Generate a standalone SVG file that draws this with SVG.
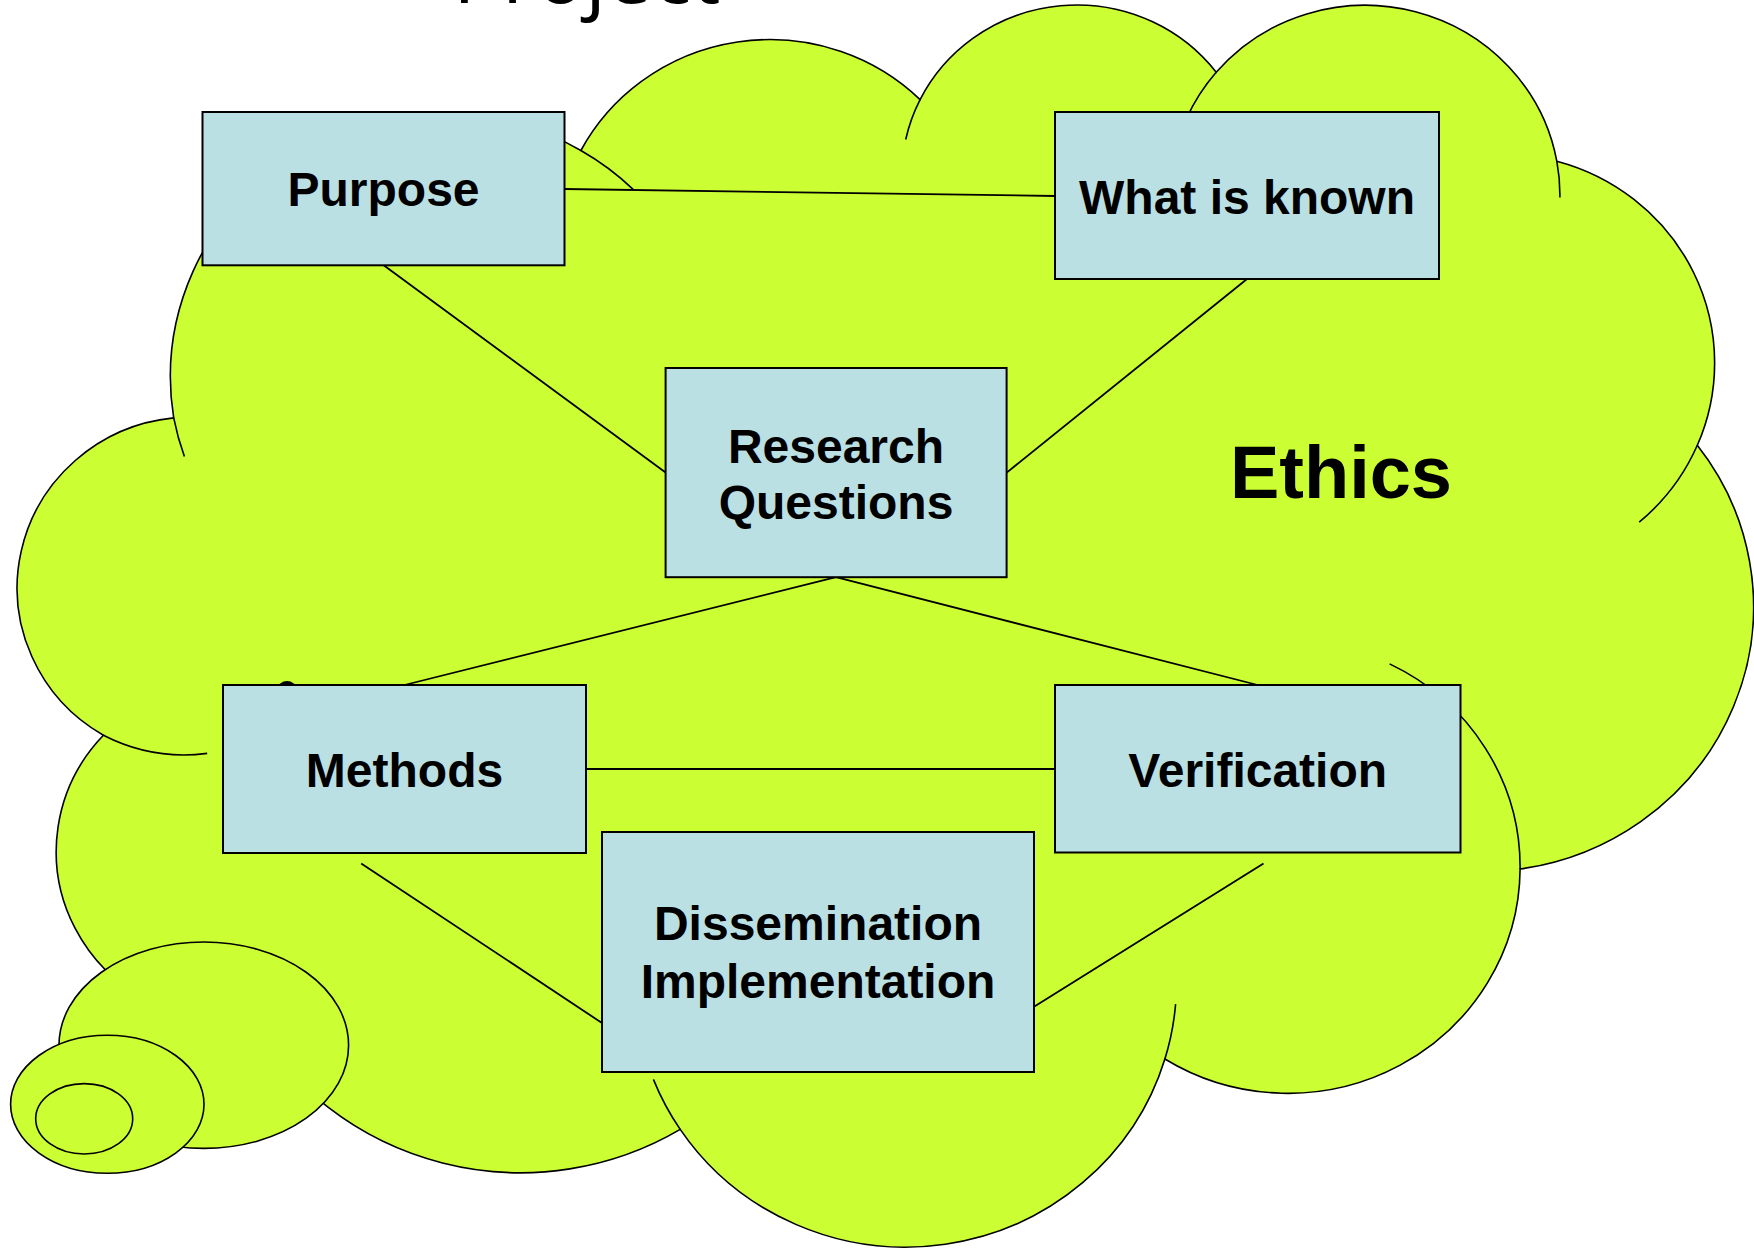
<svg xmlns="http://www.w3.org/2000/svg" width="1754" height="1248" viewBox="0 0 1754 1248">
<defs>
<style>
.cloud{fill:#CCFF33;stroke:#000;stroke-width:1.6}
.inner{fill:none;stroke:#000;stroke-width:1.6}
.tail{fill:#CCFF33;stroke:#000;stroke-width:1.6}
.box{fill:#BBE0E3;stroke:#000;stroke-width:2}
.lbl{font-family:"Liberation Sans",Arial,sans-serif;font-weight:bold;font-size:48px;fill:#000;text-anchor:middle}
.conn{stroke:#000;stroke-width:1.8;fill:none}
</style>
</defs>
<rect width="1754" height="1248" fill="#fff"/>
<text x="453" y="3" font-family="'Open Sans','DejaVu Sans',sans-serif" font-size="82" fill="#000">Project</text>
<g id="ethics-cloud">
<path class="cloud" d="M173.7 417.9 A271.06 264.13 0 0 1 580.9 150.5 A214.06 208.86 0 0 1 920.1 99.6 A175.21 170.86 0 0 1 1216.2 72.3 A194.96 189.55 0 0 1 1556.8 161.2 A214.06 209.03 0 0 1 1697.3 445.3 A271.94 264.99 0 0 1 1520.1 869.0 A232.20 226.11 0 0 1 1164.9 1059.0 A271.02 264.85 0 0 1 680.2 1129.4 A309.87 303.02 0 0 1 251.6 1020.4 A175.01 170.09 0 0 1 103.4 735.3 A174.40 170.86 0 0 1 173.7 417.9 Z"/>
<path class="inner" d="M207.2 753.4 A174.40 170.86 0 0 1 103.4 735.3 M296.9 1004.1 A175.01 170.09 0 0 1 251.6 1020.4 M680.2 1129.4 A271.02 264.85 0 0 1 653.4 1079.4 M1175.6 1004.1 A271.02 264.85 0 0 1 1164.9 1059.0 M1389.6 663.9 A232.20 226.11 0 0 1 1520.1 869.0 M1697.3 445.3 A214.06 209.03 0 0 1 1639.2 522.2 M1556.8 161.2 A194.96 189.55 0 0 1 1559.9 197.5 M1186.5 118.6 A194.96 189.55 0 0 1 1216.2 72.3 M905.7 139.5 A175.21 170.86 0 0 1 920.1 99.6 M580.9 150.5 A271.06 264.13 0 0 1 633.1 189.3 M184.4 456.5 A271.06 264.13 0 0 1 173.7 417.9"/>
<ellipse class="tail" cx="203.8" cy="1045.2" rx="144.8" ry="103.2"/>
<ellipse class="tail" cx="107.3" cy="1104.3" rx="96.7" ry="69"/>
<ellipse class="tail" cx="84.2" cy="1118.8" rx="48.5" ry="35.2"/>
<text x="1341" y="498" font-family="'Liberation Sans',Arial,sans-serif" font-weight="bold" font-size="74" text-anchor="middle" fill="#000">Ethics</text>
</g>
<ellipse cx="287" cy="689" rx="9" ry="8" fill="#000"/>
<g id="connectors">
<line class="conn" x1="564.6" y1="189" x2="1055" y2="196"/>
<line class="conn" x1="383.7" y1="265.3" x2="665.6" y2="472.6"/>
<line class="conn" x1="1247" y1="279" x2="1006.7" y2="472.6"/>
<line class="conn" x1="836" y1="577.2" x2="404.5" y2="685"/>
<line class="conn" x1="836" y1="577.2" x2="1257.7" y2="685"/>
<line class="conn" x1="586" y1="769" x2="1055" y2="769"/>
<line class="conn" x1="361.2" y1="863.4" x2="602" y2="1023"/>
<line class="conn" x1="1263.5" y1="863.4" x2="1034" y2="1006.7"/>
</g>
<g id="node-purpose">
<rect class="box" x="202.5" y="112" width="362" height="153.3"/>
<text class="lbl" x="383.5" y="206">Purpose</text>
</g>
<g id="node-what-is-known">
<rect class="box" x="1055" y="112" width="384" height="167"/>
<text class="lbl" x="1247" y="213.5">What is known</text>
</g>
<g id="node-research-questions">
<rect class="box" x="665.6" y="368" width="341" height="209.2"/>
<text class="lbl" x="836" y="463">Research</text>
<text class="lbl" x="836" y="519">Questions</text>
</g>
<g id="node-methods">
<rect class="box" x="223" y="685" width="363" height="168"/>
<text class="lbl" x="404.5" y="786.5">Methods</text>
</g>
<g id="node-verification">
<rect class="box" x="1055" y="685" width="405.5" height="167.5"/>
<text class="lbl" x="1257.7" y="786.5">Verification</text>
</g>
<g id="node-dissemination">
<rect class="box" x="602" y="832" width="432" height="240"/>
<text class="lbl" x="818" y="940">Dissemination</text>
<text class="lbl" x="818" y="997.7">Implementation</text>
</g>
</svg>
